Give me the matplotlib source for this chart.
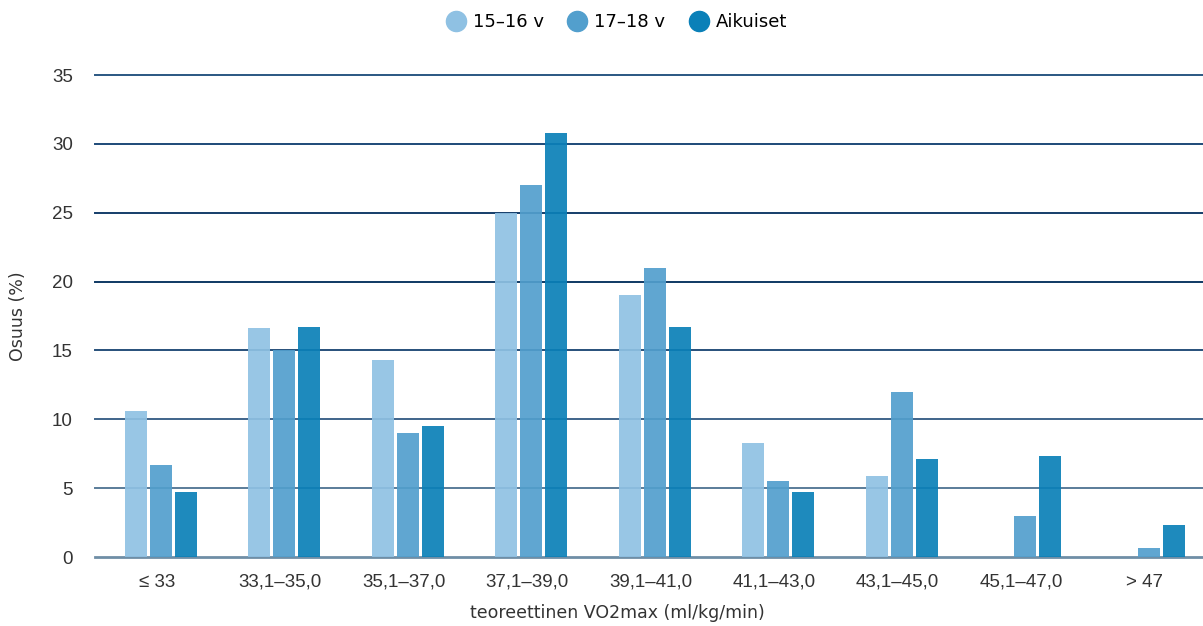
import matplotlib
matplotlib.use("Agg")
import matplotlib.pyplot as plt
from matplotlib.lines import Line2D
import numpy as np

categories = ["≤ 33", "33,1–35,0", "35,1–37,0", "37,1–39,0", "39,1–41,0",
              "41,1–43,0", "43,1–45,0", "45,1–47,0", "> 47"]
series_names = ["15–16 v", "17–18 v", "Aikuiset"]
teens_15_16 = [10.6, 16.6, 14.3, 25.0, 19.0, 8.3, 5.9, None, None]
teens_17_18 = [6.7, 15.0, 9.0, 27.0, 21.0, 5.5, 12.0, 3.0, 0.65]
adults = [4.7, 16.7, 9.5, 30.8, 16.7, 4.7, 7.1, 7.3, 2.3]
y_ticks = [0, 5, 10, 15, 20, 25, 30, 35]

colors = ["#8fc1e3", "#529fcd", "#0a80b8"]
grid_colors = ["#6f8ea6", "#5a7c99", "#3f648a", "#27507a",
               "#0e3863", "#143d69", "#1d4a78", "#2a5782"]

W, H = 1203, 626
fig = plt.figure(figsize=(W / 100, H / 100), dpi=100)
ax = fig.add_axes([95 / W, (H - 557) / H, (W - 95) / W, (557 - 75) / H])

ax.set_ylim(0, 35)
step = 123.5
ax.set_xlim(-0.5, -0.5 + (W - 95) / step)

# horizontal guide lines beneath the bars
for t, c in zip(y_ticks, grid_colors):
    ax.axhline(t, color=c, lw=2.0 if t == 0 else 1.4, zorder=1, clip_on=False)

x = np.arange(len(categories))
bw = 22 / step
offs = 25 / step
shift = 4 / step
for i, (vals, col) in enumerate(zip([teens_15_16, teens_17_18, adults], colors)):
    xs = [xi + shift + (i - 1) * offs for xi, v in zip(x, vals) if v is not None]
    hs = [v for v in vals if v is not None]
    ax.bar(xs, hs, width=bw, color=col, alpha=0.92, zorder=2, linewidth=0)

ax.set_xticks(x)
ax.set_xticklabels(categories, fontsize=13.5, color="#333333",
                   family=["Liberation Sans", "DejaVu Sans"])
ax.set_yticks(y_ticks)
ax.set_yticklabels([str(t) for t in y_ticks], fontsize=13.5, color="#333333",
                   family="Liberation Sans")
ax.tick_params(axis="both", length=0)
ax.tick_params(axis="y", pad=16)
ax.tick_params(axis="x", pad=12)
for s in ax.spines.values():
    s.set_visible(False)

fig.text(617 / W, (H - 613) / H, "teoreettinen VO2max (ml/kg/min)", fontsize=12.5,
         color="#333333", family="DejaVu Sans", ha="center", va="center")
fig.text(18 / W, (H - 316) / H, "Osuus (%)", rotation=90, fontsize=12.5,
         color="#333333", family="DejaVu Sans", ha="center", va="center")

handles = [Line2D([], [], marker="o", linestyle="", markersize=14.5,
                  markerfacecolor=c, markeredgecolor=c) for c in colors]
fig.legend(handles, series_names, loc="center", bbox_to_anchor=(617 / W, (H - 22) / H),
           ncol=3, frameon=False, handlelength=1.0, handletextpad=0.45,
           columnspacing=1.35, prop={"family": "DejaVu Sans", "size": 13})

fig.savefig("out.png", dpi=100)
